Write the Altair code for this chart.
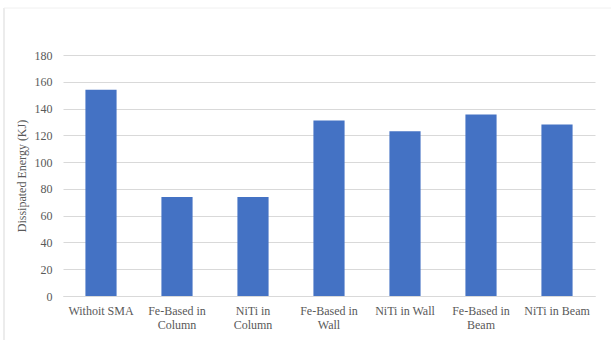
import altair as alt
import pandas as pd

# Dissipated energy per retrofit configuration
categories = [
    "Withoit SMA",
    "Fe-Based in\nColumn",
    "NiTi in\nColumn",
    "Fe-Based in\nWall",
    "NiTi in Wall",
    "Fe-Based in\nBeam",
    "NiTi in Beam",
]
energy_kj = [154, 74, 74, 131, 123, 135.5, 128]
y_ticks = [0, 20, 40, 60, 80, 100, 120, 140, 160, 180]

df = pd.DataFrame({"case": categories, "energy": energy_kj})

FONT = "'Times New Roman', 'Liberation Serif', 'DejaVu Serif', serif"
TEXT_GRAY = "#595959"
GRID_GRAY = "#d9d9d9"

bars = alt.Chart(df).mark_bar(color="#4472C4").encode(
    x=alt.X(
        "case:N",
        sort=None,
        title=None,
        scale=alt.Scale(paddingInner=0.59, paddingOuter=0.295),
        axis=alt.Axis(
            labelAngle=0,
            labelExpr="split(datum.value, '\\n')",
            labelFont=FONT,
            labelFontSize=12,
            labelColor=TEXT_GRAY,
            labelLineHeight=14,
            labelPadding=9,
            labelBaseline="top",
            ticks=False,
            domainColor=GRID_GRAY,
            domainWidth=1,
            grid=False,
            labelLimit=200,
        ),
    ),
    y=alt.Y(
        "energy:Q",
        title="Dissipated Energy (KJ)",
        scale=alt.Scale(domain=[0, 180], nice=False),
        axis=alt.Axis(
            values=y_ticks,
            labelFont=FONT,
            labelFontSize=12,
            labelColor=TEXT_GRAY,
            labelPadding=11,
            ticks=False,
            domain=False,
            gridColor=GRID_GRAY,
            gridWidth=1,
            titleFont=FONT,
            titleFontSize=12,
            titleFontWeight="normal",
            titleColor=TEXT_GRAY,
            titlePadding=6,
        ),
    ),
)

# Thin outer frame of the chart area (left and top edges)
frame_src = alt.Data(values=[{"k": 0}])
left_edge = alt.Chart(frame_src).mark_rule(color="#d9d9d9", strokeWidth=1).encode(
    x=alt.value(-59), y=alt.value(-47), y2=alt.value(290)
)
top_edge = alt.Chart(frame_src).mark_rule(color="#f0f0f0", strokeWidth=1).encode(
    x=alt.value(-59), x2=alt.value(560), y=alt.value(-47)
)

chart = (
    alt.layer(left_edge, top_edge, bars)
    .properties(
        width=532,
        height=241,
        autosize=alt.AutoSizeParams(type="none"),
        padding={"left": 63, "top": 55, "right": 16, "bottom": 44},
        background="white",
    )
    .configure(font=FONT)
    .configure_view(stroke=None)
)

chart.save("out.html", embed_options={"renderer": "svg", "actions": False})
